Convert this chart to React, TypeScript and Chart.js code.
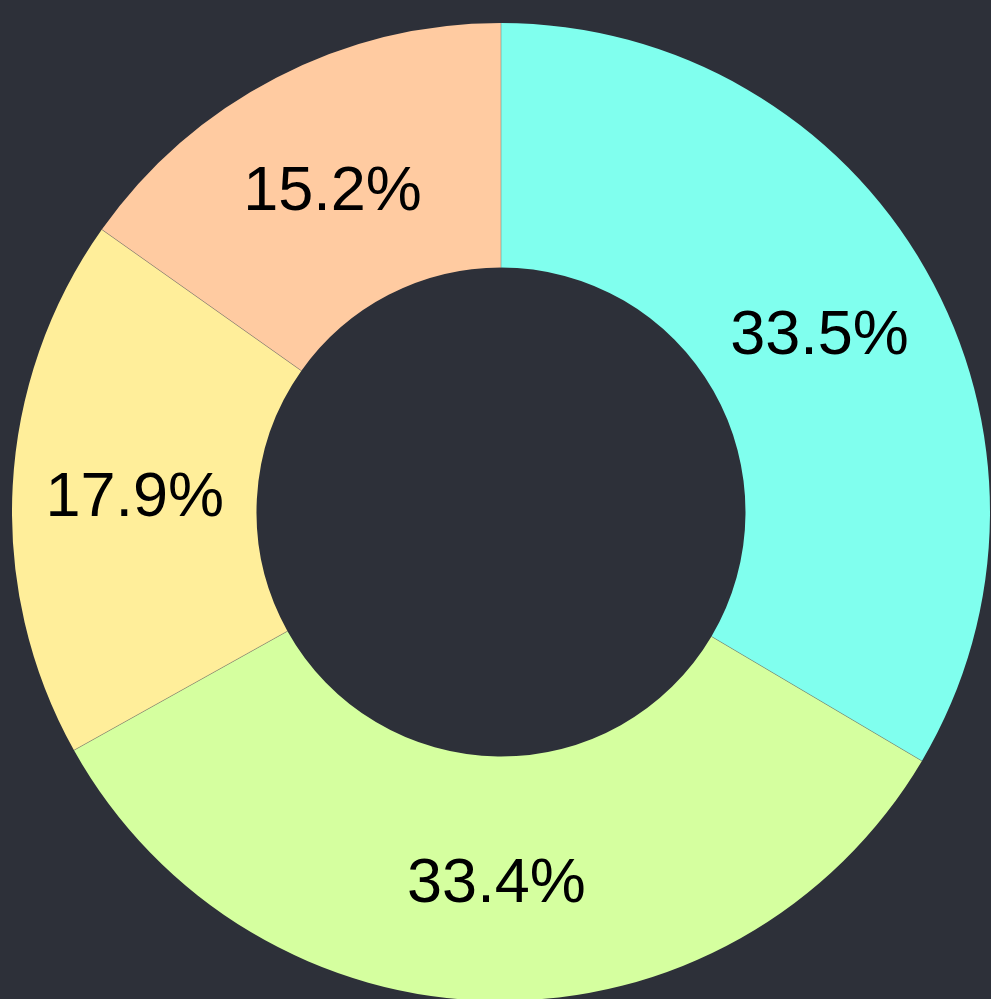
import React, { useEffect, useRef } from "react";
import { Chart, registerables } from "chart.js";

Chart.register(...registerables);

const labels = ["A", "B", "C", "D"];
const values = [33.5, 33.4, 17.9, 15.2];
const colors = ["#80ffee", "#d5ff9f", "#ffee9a", "#ffcba1"];
const bg = "#2d3039";

const labelPlugin = {
  id: "sliceLabels",
  afterDatasetsDraw(chart: any) {
    const ctx = chart.ctx;
    const meta = chart.getDatasetMeta(0);
    const total = values.reduce((a, b) => a + b, 0);
    ctx.save();
    // separators
    ctx.strokeStyle = "rgba(110,110,110,0.8)";
    ctx.lineWidth = 0.6;
    meta.data.forEach((arc: any) => {
      const p = arc.getProps(["x", "y", "startAngle", "innerRadius", "outerRadius"], true);
      ctx.beginPath();
      ctx.moveTo(p.x + Math.cos(p.startAngle) * p.innerRadius, p.y + Math.sin(p.startAngle) * p.innerRadius);
      ctx.lineTo(p.x + Math.cos(p.startAngle) * p.outerRadius, p.y + Math.sin(p.startAngle) * p.outerRadius);
      ctx.stroke();
    });
    ctx.font = '63px "Liberation Sans", Arial, sans-serif';
    ctx.fillStyle = "#000";
    ctx.textAlign = "center";
    ctx.textBaseline = "middle";
    meta.data.forEach((arc: any, i: number) => {
      const p = arc.getProps(["x", "y", "startAngle", "endAngle", "innerRadius", "outerRadius"], true);
      const mid = (p.startAngle + p.endAngle) / 2;
      const r = (p.innerRadius + p.outerRadius) / 2;
      const x = p.x + Math.cos(mid) * r;
      const y = p.y + Math.sin(mid) * r;
      ctx.fillText(((values[i] / total) * 100).toFixed(1) + "%", x, y + 6);
    });
    ctx.restore();
  },
};

export default function App() {
  const ref = useRef<HTMLCanvasElement>(null);
  useEffect(() => {
    if (!ref.current) return;
    const chart = new Chart(ref.current, {
      type: "doughnut",
      data: {
        labels,
        datasets: [
          {
            data: values,
            backgroundColor: colors,
            borderWidth: 0,
          },
        ],
      },
      options: {
        animation: false,
        responsive: false,
        cutout: "50%",
        layout: { padding: 0 },
        plugins: { legend: { display: false }, tooltip: { enabled: false } },
      },
      plugins: [labelPlugin],
    });
    return () => chart.destroy();
  }, []);
  return (
    <div style={{ position: "fixed", left: 0, top: 0, width: 991, height: 999, background: bg, overflow: "hidden" }}>
      <canvas
        ref={ref}
        width={978}
        height={978}
        style={{ position: "absolute", left: 12, top: 23, width: 978, height: 978 }}
      />
    </div>
  );
}
